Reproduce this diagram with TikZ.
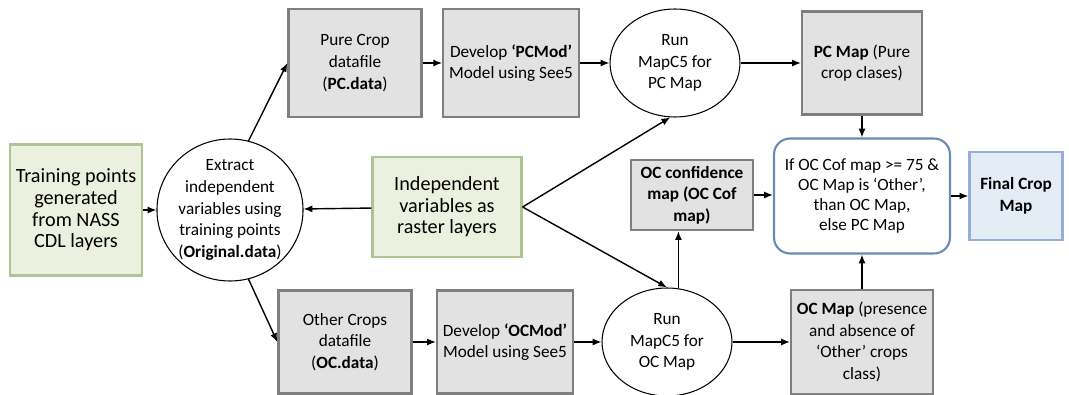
\documentclass[tikz,border=0pt]{standalone}
\usepackage{fontspec}
\setmainfont{Carlito}
\usetikzlibrary{arrows.meta,shapes.geometric}

\definecolor{boxgray}{HTML}{E2E2E2}
\definecolor{linegray}{HTML}{7F7F7F}
\definecolor{boxgreen}{HTML}{EBF1DE}
\definecolor{linegreen}{HTML}{AFC493}
\definecolor{boxblue}{HTML}{E4ECF6}
\definecolor{lineblue}{HTML}{93AFD3}
\definecolor{rulesblue}{HTML}{6A8BB3}

\begin{document}
\begin{tikzpicture}[x=0.02cm,y=-0.02cm,
    every node/.style={align=center,font=\fontsize{9.8}{12.3}\selectfont},
    graybox/.style={draw=linegray,fill=boxgray,line width=1.3pt},
    greenbox/.style={draw=linegreen,fill=boxgreen,line width=1.3pt,font=\fontsize{11.5}{12.3}\selectfont},
    oval/.style={draw,ellipse,inner sep=0pt,line width=0.6pt},
    arr/.style={-{Latex[length=5pt,width=4pt]},line width=0.8pt}]

\useasboundingbox (0,0) rectangle (1069,395);

% left side
\node[greenbox,minimum width=2.52cm,minimum height=2.62cm] (train) at (76,210)
    {Training points\\generated\\from NASS\\CDL layers};
\node[oval,minimum width=2.8cm,minimum height=2.7cm] (extract) at (230,210)
    {Extract\\independent\\variables using\\training points\\(\textbf{Original.data})};
\node[greenbox,minimum width=2.98cm,minimum height=2cm] (indep) at (447,207)
    {Independent\\variables as\\raster layers};

% pure crop row
\node[graybox,minimum width=2.66cm,minimum height=2.16cm] (pcdata) at (355,63)
    {Pure Crop\\datafile\\(\textbf{PC.data})};
\node[graybox,minimum width=2.64cm,minimum height=2.16cm] (pcmod) at (511,63)
    {Develop \textbf{‘PCMod’}\\Model using See5};
\node[oval,minimum width=2.6cm,minimum height=2.16cm] (runpc) at (675,63)
    {Run\\MapC5 for\\PC Map};
\node[graybox,minimum width=2.4cm,minimum height=2.06cm] (pcmap) at (862,63)
    {\textbf{PC Map} (Pure\\crop clases)};

% other crops row
\node[graybox,minimum width=2.66cm,minimum height=2.06cm] (ocdata) at (345,342)
    {Other Crops\\datafile\\(\textbf{OC.data})};
\node[graybox,minimum width=2.68cm,minimum height=2.06cm] (ocmod) at (505,342)
    {Develop \textbf{‘OCMod’}\\Model using See5};
\node[oval,minimum width=2.6cm,minimum height=2.16cm] (runoc) at (667,342)
    {Run\\MapC5 for\\OC Map};
\node[graybox,minimum width=2.8cm,minimum height=2.08cm] (ocmap) at (862,342)
    {\textbf{OC Map} (presence\\and absence of\\‘Other’ crops\\class)};

% combining
\node[graybox,minimum width=2.44cm,minimum height=1.4cm,font=\fontsize{9.8}{12.3}\selectfont\bfseries] (occonf) at (692,195)
    {OC confidence\\map (OC Cof\\map)};
\node[draw=rulesblue,fill=white,rounded corners=0.32cm,line width=1.2pt,minimum width=3.52cm,minimum height=2.3cm,font=\fontsize{9.8}{11.3}\selectfont] (rule) at (862,196)
    {If OC Cof map >= 75 \&\\OC Map is ‘Other’,\\than OC Map,\\else PC Map};
\node[draw=lineblue,fill=boxblue,line width=1.3pt,minimum width=1.86cm,minimum height=1.76cm,font=\fontsize{9.8}{12.3}\selectfont\bfseries] (final) at (1016,196)
    {Final Crop\\Map};

% arrows
\draw[arr] (train) -- (extract);
\draw[arr] (indep) -- (extract);
\draw[arr] (extract.75) -- (pcdata.west);
\draw[arr] (extract.-75) -- (ocdata.west);
\draw[arr] (pcdata) -- (pcmod);
\draw[arr] (pcmod) -- (runpc);
\draw[arr] (runpc) -- (pcmap);
\draw[arr] (ocdata) -- (ocmod);
\draw[arr] (ocmod) -- (runoc);
\draw[arr] (runoc) -- (ocmap);
\draw[arr] (indep.east) -- (runpc.-95);
\draw[arr] (indep.east) -- (runoc.north);
\draw[arr] (runoc.78) -- (runoc.78 |- occonf.south);
\draw[arr] (occonf.east) -- (rule.west |- occonf.east);
\draw[arr] (pcmap) -- (rule);
\draw[arr] (ocmap) -- (rule);
\draw[arr] (rule) -- (final);

\end{tikzpicture}
\end{document}
